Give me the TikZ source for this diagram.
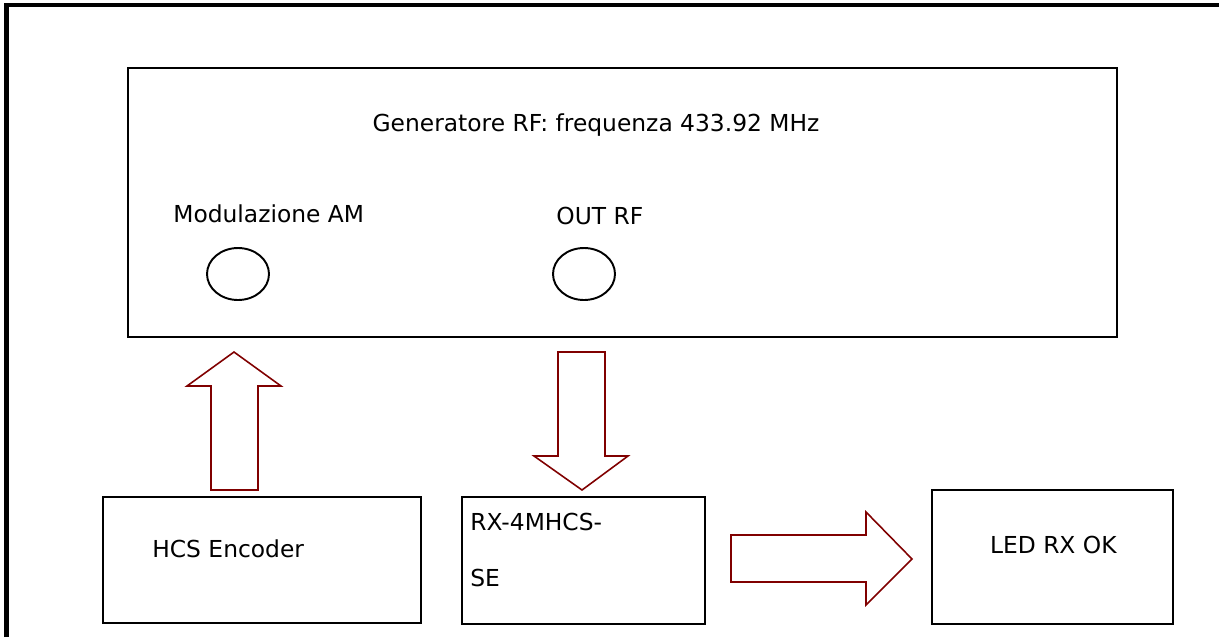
\documentclass[tikz,border=0pt]{standalone}
\usepackage{fontspec}
\setmainfont{DejaVu Sans}
\usepackage{tikz}

\definecolor{arrowred}{RGB}{128,0,0}
\tikzset{
  txt/.style={anchor=base west,inner sep=0pt},
  box/.style={line width=1.1pt},
  blockarrow/.style={draw=arrowred,line width=0.9pt,line join=miter}
}

\begin{document}
\begin{tikzpicture}[x=0.02cm,y=-0.02cm,font=\fontsize{13.3}{16}\selectfont]
    \useasboundingbox (0,0) rectangle (1219,637);
    % page frame
    \draw[line width=2.8pt] (6.5,637) -- (6.5,5) -- (1219,5);
    % RF generator
    \draw[box] (128,68) rectangle (1117,337);
    \node[txt,anchor=base] (gen) at (596,131) {Generatore RF: frequenza 433.92 MHz};
    \node[txt] (am) at (173,222) {Modulazione AM};
    \node[txt] (out) at (556,224) {OUT RF};
    \draw[box] (238,274) ellipse [x radius=31,y radius=26];
    \draw[box] (584,274) ellipse [x radius=31,y radius=26];
    % blocks
    \draw[box] (103,497) rectangle (421,623);
    \node[txt] (hcs) at (152,557) {HCS Encoder};
    \draw[box] (462,497) rectangle (705,624);
    \node[txt] (rx) at (470,530) {RX-4MHCS-};
    \node[txt] (rxse) at (470,586) {SE};
    \draw[box] (932,490) rectangle (1173,624);
    \node[txt,anchor=base east] (led) at (1117,553) {LED RX OK};
    % block arrows
    \draw[blockarrow] (211,490) -- (211,386) -- (187,386) -- (234,352) -- (281,386) -- (258,386) -- (258,490) -- cycle;
    \draw[blockarrow] (558,352) -- (605,352) -- (605,456) -- (628,456) -- (582,490) -- (534,456) -- (558,456) -- cycle;
    \draw[blockarrow] (731,535) -- (866,535) -- (866,512) -- (912,559) -- (866,605) -- (866,582) -- (731,582) -- cycle;
\end{tikzpicture}
\end{document}
